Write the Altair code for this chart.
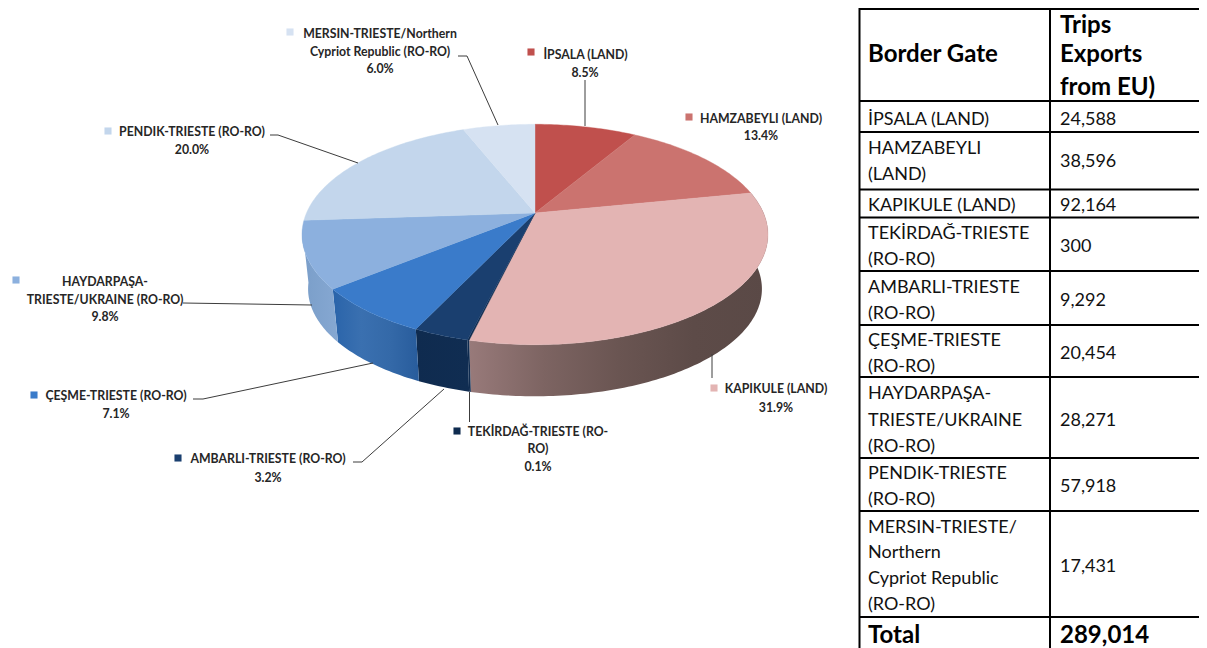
import math
import altair as alt
import pandas as pd

# ---- data ----
gates = ["İPSALA (LAND)", "HAMZABEYLI (LAND)", "KAPIKULE (LAND)", "TEKİRDAĞ-TRIESTE (RO-RO)",
         "AMBARLI-TRIESTE (RO-RO)", "ÇEŞME-TRIESTE (RO-RO)", "HAYDARPAŞA-TRIESTE/UKRAINE (RO-RO)",
         "PENDIK-TRIESTE (RO-RO)", "MERSIN-TRIESTE/Northern Cypriot Republic (RO-RO)"]
trips = [24588, 38596, 92164, 300, 9292, 20454, 28271, 57918, 17431]
trip_labels = ["24,588", "38,596", "92,164", "300", "9,292", "20,454", "28,271", "57,918", "17,431"]
percents = ["8.5%", "13.4%", "31.9%", "0.1%", "3.2%", "7.1%", "9.8%", "20.0%", "6.0%"]
total_label = "289,014"

top_colors = ["#c0504d", "#cb736f", "#e3b4b3", "#0f2b4f", "#1a3f6f", "#3a7bca", "#8cb0de", "#c3d6ec", "#d6e2f2"]

# ---- layout (page pixels) ----
OX, OY = 8, 8
W, H = 1191, 640
APEX = (535, 213)
A, B, K = 228.5, 106.0, 0.195     # perspective circle
SHRINK, DEPTH = 0.974, 55         # lower rim
LABEL_DY, TABLE_DY = 1, 1.5

side_stops = {
    2: ["#987a7a", "#7d6462", "#6a5552", "#5d4b48", "#5a4946"],
    3: ["#0f2b4f", "#0f2b4f"],
    4: ["#0f2b4f", "#102d52"],
    5: ["#2a64aa", "#3a70b0", "#3469a8", "#285c9c"],
    6: ["#7a9ec9", "#86a8d2"],
}


def rim(theta, lower=False):
    s, c = math.sin(theta), math.cos(theta)
    w = 1 + K * c
    x, y = A * s / w, -B * c / w
    if lower:
        x, y = x * SHRINK, y * SHRINK + DEPTH
    return [APEX[0] + x - OX, APEX[1] + y - OY]


def arc_points(t0, t1, lower=False):
    n = max(2, int((t1 - t0) * 60))
    return [rim(t0 + (t1 - t0) * i / n, lower) for i in range(n + 1)]


total = sum(trips)
edges = [0.0]
for v in trips:
    edges.append(edges[-1] + v / total * 2 * math.pi)


def feature(ring, color=""):
    return {"type": "Feature", "properties": {"color": color},
            "geometry": {"type": "Polygon", "coordinates": [ring + [ring[0]]]}}


proj = alt.Projection(type="identity", scale=1, translate=[0, 0])
layers = []

# side walls
for i in side_stops:
    t0, t1 = edges[i], min(edges[i + 1], math.radians(262))
    ring = arc_points(t0, t1) + arc_points(t0, t1, True)[::-1]
    stops = side_stops[i]
    grad = alt.Gradient(gradient="linear", x1=0, x2=1, y1=0, y2=0,
                        stops=[alt.GradientStop(offset=j / (len(stops) - 1), color=c) for j, c in enumerate(stops)])
    layers.append(alt.Chart(alt.Data(values=[feature(ring)])).mark_geoshape(fill=grad, stroke=None).project(**proj.to_dict()))

# top faces
tops = []
for i, col in enumerate(top_colors):
    ring = [[APEX[0] - OX, APEX[1] - OY]] + arc_points(edges[i], edges[i + 1])
    tops.append(feature(ring, col))
layers.append(
    alt.Chart(alt.Data(values=tops)).mark_geoshape(strokeWidth=0.4).encode(
        fill=alt.Fill("properties.color:N", scale=None),
        stroke=alt.Stroke("properties.color:N", scale=None),
    ).project(**proj.to_dict())
)

PX = lambda f: alt.X(f, scale=None, axis=None)
PY = lambda f: alt.Y(f, scale=None, axis=None)

# leader lines
leaders = [
    [(585, 80), (585, 126)],
    [(712, 354), (712, 378)],
    [(469.5, 392), (469.5, 422)],
    [(353, 462), (362, 462), (444, 389)],
    [(193, 399), (203, 399), (373, 363)],
    [(183, 303), (312, 305)],
    [(270, 135), (278, 135), (358, 163)],
    [(458, 56), (467, 56), (498, 125)],
]
rows = []
for g, pts in enumerate(leaders):
    for o, (x, y) in enumerate(pts):
        rows.append({"x": x - OX, "y": y - OY, "g": g, "o": o})
layers.append(
    alt.Chart(pd.DataFrame(rows)).mark_line(color="#3c3c3c", strokeWidth=1).encode(
        x=PX("x:Q"), y=PY("y:Q"), detail="g:N", order="o:Q")
)

# swatches
swatch_xy = [(531, 52), (689, 117), (714, 388), (457, 431), (178, 458), (34, 395), (16, 280), (108, 131), (290, 32)]
sw = pd.DataFrame({"x": [p[0] - OX for p in swatch_xy], "y": [p[1] - OY for p in swatch_xy], "c": top_colors})
layers.append(
    alt.Chart(sw).mark_square(size=50, opacity=1).encode(
        x=PX("x:Q"), y=PY("y:Q"), fill=alt.Fill("c:N", scale=None), stroke=alt.value(None))
)

# pie labels
label_lines = [
    ("İPSALA (LAND)", 585.5, 54), (percents[0], 585, 72),
    ("HAMZABEYLI (LAND)", 761, 118), (percents[1], 761, 135),
    ("KAPIKULE (LAND)", 776, 388), (percents[2], 776, 407),
    ("TEKİRDAĞ-TRIESTE (RO-", 538, 431), ("RO)", 538, 448), (percents[3], 538, 466),
    ("AMBARLI-TRIESTE (RO-RO)", 268, 458), (percents[4], 268, 477),
    ("ÇEŞME-TRIESTE (RO-RO)", 116, 395), (percents[5], 116, 413),
    ("HAYDARPAŞA-", 105, 281), ("TRIESTE/UKRAINE (RO-RO)", 105, 299), (percents[6], 105, 316),
    ("PENDIK-TRIESTE (RO-RO)", 192, 131), (percents[7], 192, 149),
    ("MERSIN-TRIESTE/Northern", 380, 33), ("Cypriot Republic (RO-RO)", 380, 51), (percents[8], 380, 68),
]
lab = pd.DataFrame([{"t": t, "x": x - OX, "y": y - OY + LABEL_DY} for t, x, y in label_lines])
layers.append(
    alt.Chart(lab).mark_text(font="Lato", fontWeight="bold", fontSize=12.3, color="#262626",
                             align="center", baseline="middle").encode(
        x=PX("x:Q"), y=PY("y:Q"), text="t:N")
)

# table grid
hlines = [9, 101, 132, 189.5, 217.5, 271, 325, 377, 458, 511, 617]
grid = pd.DataFrame({"x": [859 - OX] * len(hlines), "x2": [W] * len(hlines),
                     "y": [v - OY for v in hlines]})
layers.append(
    alt.Chart(grid).mark_rule(color="#000000", strokeWidth=2).encode(
        x=PX("x:Q"), x2="x2:Q", y=PY("y:Q"))
)
vlines = pd.DataFrame({"x": [859.5 - OX, 1050 - OX], "y": [0, 0], "y2": [H, H]})
layers.append(
    alt.Chart(vlines).mark_rule(color="#000000", strokeWidth=2).encode(
        x=PX("x:Q"), y=PY("y:Q"), y2="y2:Q")
)

# table text
body_lines = [
    ("İPSALA (LAND)", 118), ("HAMZABEYLI", 147), ("(LAND)", 173), ("KAPIKULE (LAND)", 204),
    ("TEKİRDAĞ-TRIESTE", 232), ("(RO-RO)", 258), ("AMBARLI-TRIESTE", 286), ("(RO-RO)", 312),
    ("ÇEŞME-TRIESTE", 339), ("(RO-RO)", 365), ("HAYDARPAŞA-", 392), ("TRIESTE/UKRAINE", 419),
    ("(RO-RO)", 445), ("PENDIK-TRIESTE", 472), ("(RO-RO)", 498), ("MERSIN-TRIESTE/", 526),
    ("Northern", 551), ("Cypriot Republic", 577), ("(RO-RO)", 603),
]
value_y = [118, 160, 204, 245, 299, 352, 419, 485, 565]
body = pd.DataFrame(
    [{"t": t, "x": 868 - OX, "y": y - OY + TABLE_DY} for t, y in body_lines]
    + [{"t": t, "x": 1060 - OX, "y": y - OY + TABLE_DY} for t, y in zip(trip_labels, value_y)]
)
layers.append(
    alt.Chart(body).mark_text(font="Lato", fontSize=18, color="#111111", align="left", baseline="middle").encode(
        x=PX("x:Q"), y=PY("y:Q"), text="t:N")
)
head_lines = [("Border Gate", 868, 53), ("Trips", 1060, 24), ("Exports", 1060, 53), ("from EU)", 1060, 86),
              ("Total", 868, 634), (total_label, 1060, 634)]
head = pd.DataFrame([{"t": t, "x": x - OX, "y": y - OY + TABLE_DY} for t, x, y in head_lines])
layers.append(
    alt.Chart(head).mark_text(font="Lato", fontWeight="bold", fontSize=24, color="#000000",
                              align="left", baseline="middle").encode(
        x=PX("x:Q"), y=PY("y:Q"), text="t:N")
)

chart = alt.layer(*layers).properties(
    width=W, height=H, padding=0, background="#ffffff",
    autosize=alt.AutoSizeParams(type="none"),
).configure_view(stroke=None)

chart.save("out.html", embed_options={"renderer": "svg", "actions": False})
